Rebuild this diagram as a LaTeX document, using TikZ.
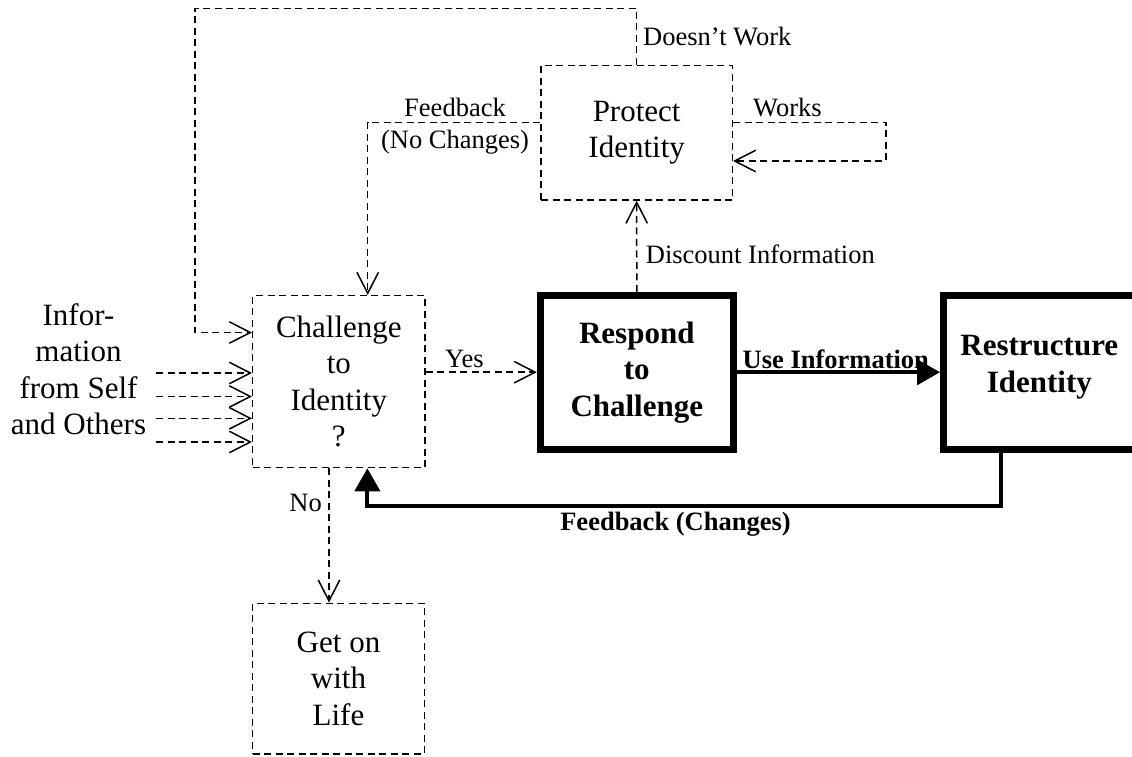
\documentclass[tikz,border=0pt]{standalone}
\usepackage{fontspec}
\setmainfont{Liberation Serif}
\usetikzlibrary{arrows.meta,calc}

% type sizes for box texts and for connector labels
\newcommand\boxfont{\fontsize{31pt}{36.5pt}\selectfont}
\newcommand\boxboldfont{\fontsize{31pt}{36.5pt}\selectfont\bfseries}
\newcommand\labfont{\fontsize{26.5pt}{31.6pt}\selectfont}
\newcommand\labboldfont{\fontsize{26.5pt}{31.6pt}\selectfont\bfseries}

\tikzset{
  dl/.style={line width=1.5pt, dash pattern=on 7pt off 4.5pt},
  barb/.style={-{Straight Barb[length=21pt,width=21.5pt]}},
  solidline/.style={line width=4pt},
  tri/.style={-{Triangle[length=23pt,width=25pt]}},
  dbox/.style={draw, dl, rectangle, inner sep=0pt, align=center, font=\boxfont},
  tbox/.style={draw, line width=7pt, rectangle, inner sep=0pt, align=center, font=\boxboldfont},
  lab/.style={inner sep=0pt, font=\labfont},
  blab/.style={inner sep=0pt, font=\labboldfont},
}

\begin{document}
\begin{tikzpicture}[x=1pt,y=-1pt]
\fill[white] (0,0) rectangle (1132,756);
\useasboundingbox (0,0) rectangle (1132,756);

% boxes
\node[dbox, minimum width=172.3pt, minimum height=171.8pt] (chal) at (338.85,381.6) {Challenge\\to\\Identity\\?};
\node[dbox, minimum width=191.3pt, minimum height=134.3pt] (prot) at (636.65,132.85) {Protect\\Identity};
\node[dbox, minimum width=171.6pt, minimum height=150.7pt] (life) at (338.5,678.65) {Get on\\with\\Life};
\node[tbox, minimum width=193pt, minimum height=153.8pt] (resp) at (636.8,372.2) {Respond\\to\\Challenge};
\node[tbox, minimum width=191.4pt, minimum height=153.8pt] (restr) at (1039.3,372.2) {};
\node[inner sep=0pt, align=center, font=\boxboldfont] (restrtext) at (1039.3,367) {Restructure\\Identity};
\node[inner sep=0pt, align=center, font=\boxfont] (info) at (78.5,369) {Infor-\\mation\\from Self\\and Others};

% bend points
\coordinate (looptop) at (195,8.3);
\coordinate (loopin) at (0,332.5);
\coordinate (fnc) at (367.7,122.5);
\coordinate (wk1) at (886,122.3);
\coordinate (wk2) at (886,161);
\coordinate (fc1) at (1000.7,505.5);
\coordinate (fc2) at (367.4,505.5);
\coordinate (nox) at (329,0);

% dashed connectors
\draw[dl,barb] (prot.north) |- (looptop) |- (chal.west |- loopin);
\draw[dl,barb] (prot.west |- fnc) -- (fnc) -- (chal.north -| fnc);
\draw[dl,barb] (prot.east |- wk1) -- (wk1) -- (wk2) -- (prot.east |- wk2);
\draw[dl,barb] (resp.north) -- (prot.south);
\draw[dl,barb] (chal.east |- resp.west) -- (resp.west);
\draw[dl,barb] (chal.south -| nox) -- (life.north -| nox);
\foreach \yy [count=\i] in {373,396.5,418.3,442}{
  \coordinate (in\i) at (156,\yy);
  \draw[dl,barb] (in\i) -- (chal.west |- in\i);
}

% labels
\node[lab, anchor=base west] (lbdw) at (643,45) {Doesn’t Work};
\node[lab, align=center] (lbfnc) at (455,126) {Feedback\\(No Changes)};
\node[lab, anchor=base west] (lbworks) at (753,116.7) {Works};
\node[lab, anchor=base west] (lbdisc) at (645.7,263) {Discount Information};
\node[lab, anchor=base west] (lbyes) at (445,367.3) {Yes};
\node[blab, anchor=base west] (lbuse) at (742.5,368.3) {Use Information};
\node[lab, anchor=base east] (lbno) at (322,511.5) {No};
\node[blab, anchor=base] (lbfc) at (675.5,530.5) {Feedback (Changes)};

% solid connectors
\draw[solidline,tri] (resp.east) -- (restr.west);
\draw[solidline,tri] (restr.south -| fc1) -- (fc1) -- (fc2) -- (chal.south -| fc2);
\end{tikzpicture}
\end{document}
